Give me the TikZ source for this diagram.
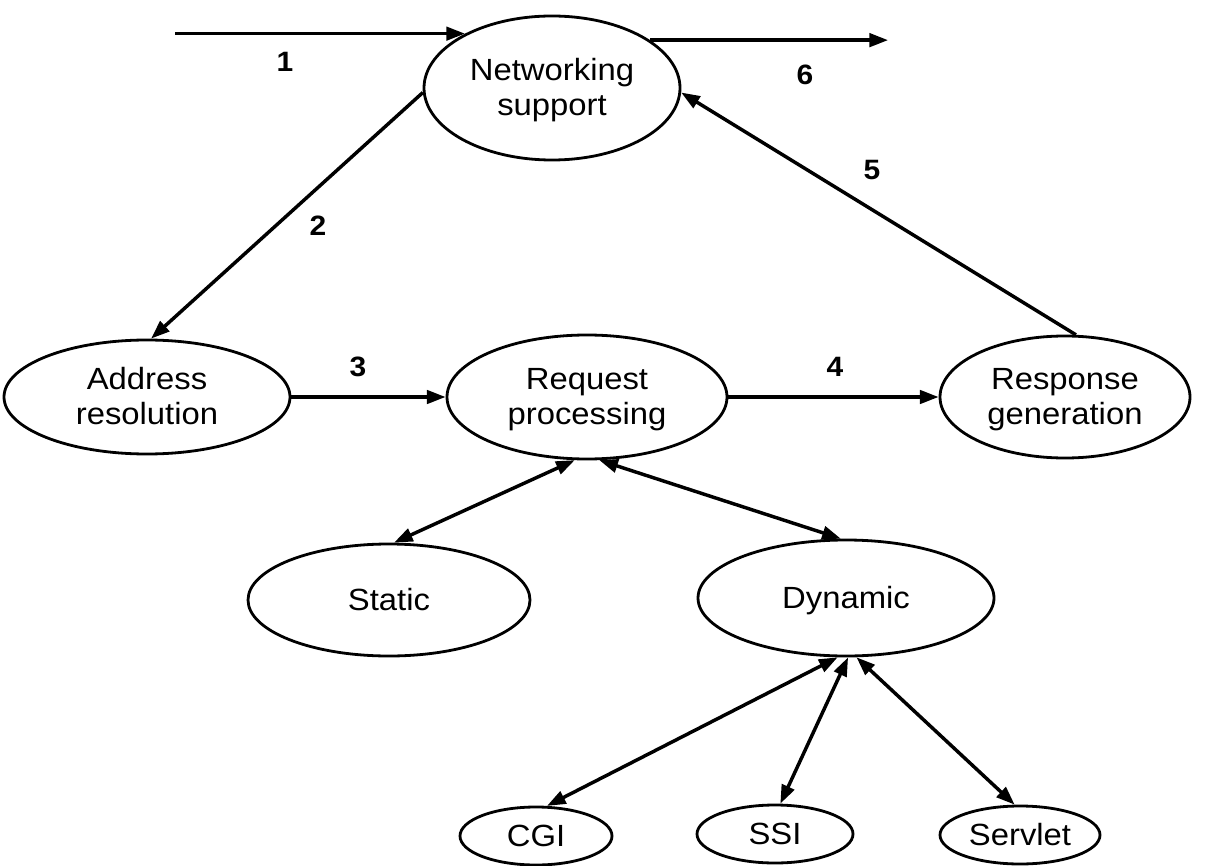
\documentclass[tikz,border=0pt]{standalone}
\usepackage{fontspec}
\setmainfont{Liberation Sans}[FakeStretch=1.07]
\usetikzlibrary{shapes.geometric,arrows.meta}

% line strut that sits the text a little low in its box
\newcommand\lowstrut{\rule[-5.7pt]{0pt}{26.5pt}}

\tikzset{
  ell/.style 2 args={ellipse, draw, line width=2.1pt, inner sep=0pt,
    minimum width=#1*0.75pt, minimum height=#2*0.75pt, align=center,
    font=\fontsize{23}{26.5}\selectfont},
  tip/.tip={Triangle[length=14pt,width=10pt]},
  arr/.style={line width=2.6pt, -tip},
  biarr/.style={line width=2.6pt, tip-tip},
  num/.style={font=\fontsize{21}{24}\selectfont\bfseries, inner sep=0pt}
}

\begin{document}
\begin{tikzpicture}[x=0.75pt, y=-0.75pt]
  \useasboundingbox (0,0) rectangle (1206,866);

  % process stages
  \node[ell={256}{144}] (net)     at (552,88)   {Networking\lowstrut\\support\lowstrut};
  \node[ell={286}{114}] (addr)    at (147,397)  {Address\lowstrut\\resolution\lowstrut};
  \node[ell={280}{124}] (req)     at (587,397)  {Request\lowstrut\\processing\lowstrut};
  \node[ell={250}{122}] (resp)    at (1065,397) {Response\lowstrut\\generation\lowstrut};
  \node[ell={282}{112}] (static)  at (389,600)  {Static\lowstrut};
  \node[ell={296}{116}] (dyn)     at (846,598)  {Dynamic\lowstrut};
  \node[ell={152}{58}]  (cgi)     at (536,836)  {CGI\lowstrut};
  \node[ell={156}{58}]  (ssi)     at (775,834)  {SSI\lowstrut};
  \node[ell={160}{58}]  (servlet) at (1020,835) {Servlet\lowstrut};

  % incoming request and outgoing response
  \path (net.148.6) ++(-290,0) coordinate (src);
  \path (net.26.8) ++(238,0) coordinate (dst);
  \draw[arr] (src) -- (net.148.6);
  \draw[arr] (net.26.8) -- (dst);

  % main pipeline
  \draw[arr] (net.182) -- (addr.86);
  \draw[arr] (addr.east) -- (req.west);
  \draw[arr] (req.east) -- (resp.west);
  \draw[arr] (resp.80) -- (net.358);

  % content types
  \draw[biarr] (req.259) -- (static.85);
  \draw[biarr] (req.281) -- (dyn.95);
  \draw[biarr] (dyn.262) -- (cgi.70);
  \draw[biarr] (dyn.272) -- (ssi.80);
  \draw[biarr] (dyn.280) -- (servlet.100);

  % step numbers
  \node[num] (l1) at (285,62)  {1};
  \node[num] (l2) at (318,226) {2};
  \node[num] (l3) at (358,367) {3};
  \node[num] (l4) at (835,367) {4};
  \node[num] (l5) at (872,170) {5};
  \node[num] (l6) at (805,75)  {6};
\end{tikzpicture}
\end{document}
